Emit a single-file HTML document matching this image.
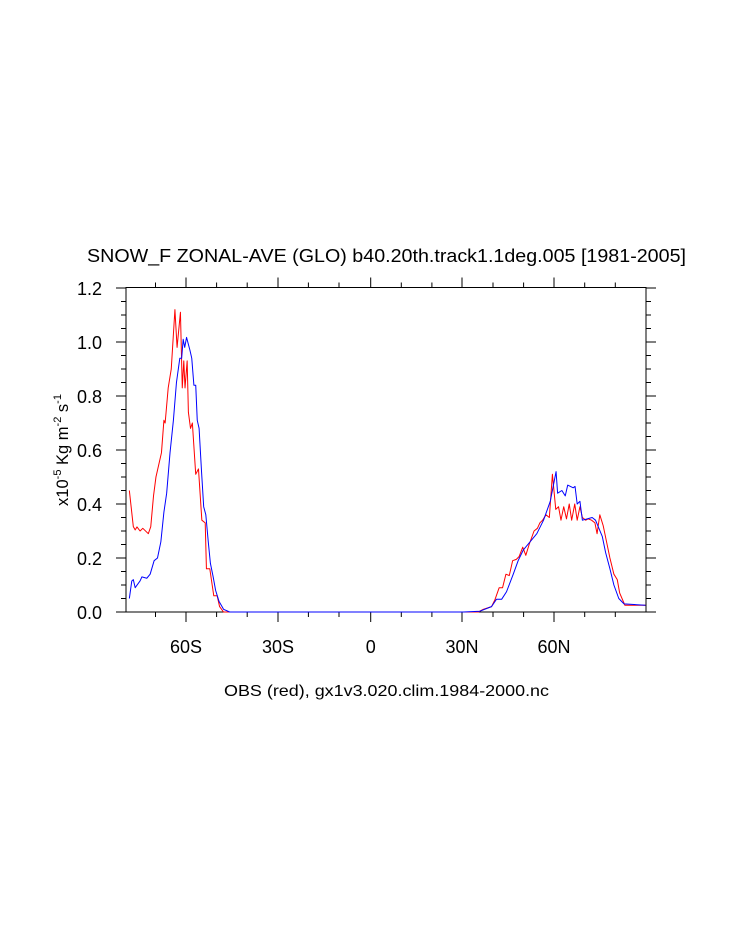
<!DOCTYPE html>
<html><head><meta charset="utf-8"><style>
html,body{margin:0;padding:0;background:#fff;}
svg{display:block;font-family:"Liberation Sans",Arial,sans-serif;}
</style></head><body>
<svg width="733" height="945" viewBox="0 0 733 945" xmlns="http://www.w3.org/2000/svg">
<rect width="733" height="945" fill="#fff"/>
<text x="87" y="262" font-size="18.5" textLength="599" lengthAdjust="spacingAndGlyphs">SNOW_F ZONAL-AVE (GLO) b40.20th.track1.1deg.005 [1981-2005]</text>
<g stroke="#000" stroke-width="1" fill="none">
<rect x="126" y="287.5" width="520" height="324.5"/>
<path d="M186,612v10M278,612v10M370.7,612v10M462,612v10M554,612v10M186,287.5v-10M278,287.5v-10M370.7,287.5v-10M462,287.5v-10M554,287.5v-10
M155.5,612v5M216.6,612v5M247.2,612v5M308.4,612v5M339,612v5M401.3,612v5M431.9,612v5M493,612v5M523.6,612v5M584.7,612v5M615.3,612v5
M155.5,287.5v-5M216.6,287.5v-5M247.2,287.5v-5M308.4,287.5v-5M339,287.5v-5M401.3,287.5v-5M431.9,287.5v-5M493,287.5v-5M523.6,287.5v-5M584.7,287.5v-5M615.3,287.5v-5"/>
<path d="M126,612h-10M126,558h-10M126,504h-10M126,450h-10M126,396h-10M126,342h-10M126,288h-10M646,612h10M646,558h10M646,504h10M646,450h10M646,396h10M646,342h10M646,288h10
M126,598.5h-5M126,585h-5M126,571.5h-5M126,544.5h-5M126,531h-5M126,517.5h-5M126,490.5h-5M126,477h-5M126,463.5h-5M126,436.5h-5M126,423h-5M126,409.5h-5M126,382.5h-5M126,369h-5M126,355.5h-5M126,328.5h-5M126,315h-5M126,301.5h-5
M646,598.5h5M646,585h5M646,571.5h5M646,544.5h5M646,531h5M646,517.5h5M646,490.5h5M646,477h5M646,463.5h5M646,436.5h5M646,423h5M646,409.5h5M646,382.5h5M646,369h5M646,355.5h5M646,328.5h5M646,315h5M646,301.5h5"/>
</g>
<g font-size="18" text-anchor="end">
<text x="102" y="619">0.0</text><text x="102" y="565">0.2</text><text x="102" y="511">0.4</text><text x="102" y="457">0.6</text><text x="102" y="403">0.8</text><text x="102" y="349">1.0</text><text x="102" y="295">1.2</text>
</g>
<g font-size="18" text-anchor="middle">
<text x="186" y="653">60S</text><text x="278" y="653">30S</text><text x="370.7" y="653">0</text><text x="462" y="653">30N</text><text x="554" y="653">60N</text>
</g>
<text x="224" y="696" font-size="16" textLength="325" lengthAdjust="spacingAndGlyphs">OBS (red), gx1v3.020.clim.1984-2000.nc</text>
<text transform="translate(68,450) rotate(-90)" font-size="16.5" text-anchor="middle">x10<tspan font-size="11" dy="-7">-5</tspan><tspan dy="7"> Kg m</tspan><tspan font-size="11" dy="-7">-2</tspan><tspan dy="7"> s</tspan><tspan font-size="11" dy="-7">-1</tspan></text>
<g transform="matrix(3.059 0 0 -270 370.7 612)" fill="none" stroke-width="1" stroke-linejoin="round">
<polyline vector-effect="non-scaling-stroke" stroke="#ff0000" points="-78.9,0.45 -77.6,0.316 -77,0.304 -76.4,0.315 -75.4,0.3 -74.5,0.31 -72.7,0.29 -71.9,0.316 -71,0.43 -70.2,0.5 -69.2,0.55 -68.4,0.59 -67.6,0.71 -67.2,0.7 -66.2,0.83 -65.2,0.9 -64,1.12 -63.3,0.98 -62.2,1.11 -61.6,0.83 -61.1,0.93 -60.7,0.83 -60,0.93 -59.6,0.74 -58.9,0.68 -58.3,0.7 -57.2,0.51 -56.3,0.53 -55.2,0.34 -54.1,0.33 -53.7,0.16 -52.6,0.16 -51.3,0.06 -50.2,0.06 -49.4,0.02 -48.1,0 30,0 35.2,0 36.8,0.01 39.5,0.02 40.6,0.045 42,0.09 43.1,0.09 44.2,0.14 45.3,0.135 46.4,0.19 47.6,0.195 48.5,0.205 49.7,0.24 50.7,0.21 51.8,0.25 53.4,0.3 54.5,0.31 55.3,0.33 56.2,0.34 57.3,0.36 58.4,0.35 59.4,0.51 60.5,0.38 61.4,0.39 62.2,0.34 63.1,0.39 64,0.345 64.9,0.4 65.7,0.34 66.7,0.4 67.5,0.34 68.4,0.39 69.2,0.35 70.3,0.34 71.1,0.345 72.2,0.34 73.3,0.33 74,0.29 74.9,0.36 76,0.32 77.1,0.26 78.2,0.2 79.5,0.14 80.6,0.12 81.4,0.07 83.1,0.025 89.8,0.025"/>
<polyline vector-effect="non-scaling-stroke" stroke="#0000ff" points="-78.9,0.05 -78.1,0.115 -77.6,0.12 -77,0.09 -75.4,0.115 -74.8,0.13 -73.2,0.125 -72.1,0.14 -70.8,0.19 -69.7,0.2 -68.6,0.26 -67.6,0.37 -66.7,0.44 -65.6,0.59 -64.5,0.71 -63.5,0.85 -62.4,0.94 -61.8,0.94 -61.3,1.01 -60.8,0.98 -60.2,1.017 -59.1,0.97 -58.5,0.94 -57.8,0.84 -57.2,0.84 -56.7,0.71 -56.1,0.68 -55.3,0.52 -54.6,0.39 -53.9,0.36 -53.1,0.26 -52.4,0.18 -51.5,0.13 -50.7,0.08 -49.6,0.04 -48.1,0.01 -46.1,0 30.3,0 35.7,0.003 39.5,0.02 41.1,0.047 42.8,0.047 44.4,0.075 46.6,0.14 48.2,0.19 49.9,0.23 52.1,0.26 54.3,0.29 56.5,0.34 58.7,0.41 60.6,0.52 61.1,0.44 62.5,0.45 63.6,0.43 64.4,0.47 66.2,0.46 66.8,0.465 67.5,0.4 68.4,0.41 69.2,0.34 70.8,0.345 72.4,0.35 73.5,0.34 74.6,0.31 75.7,0.28 76.8,0.22 78.2,0.16 79.5,0.1 81.1,0.05 82.8,0.03 89.8,0.025"/>
</g>
</svg>
</body></html>
